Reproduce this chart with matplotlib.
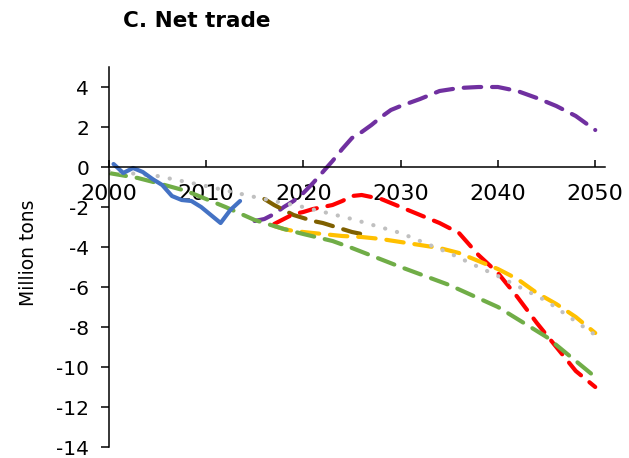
import matplotlib
matplotlib.use("Agg")
import matplotlib.pyplot as plt
import numpy as np

# historical net trade (mid-year points)
hist_years = np.arange(2000, 2014)
hist_vals = [0.15, -0.3, -0.05, -0.25, -0.6, -0.9, -1.45, -1.65, -1.7, -2.0, -2.4, -2.8, -2.15, -1.7]

# baseline trend (green)
base_years = [2000, 2003, 2005, 2008, 2010, 2012, 2015, 2018, 2020, 2023, 2025, 2030, 2035, 2040, 2045, 2050]
base_vals = [-0.3, -0.55, -0.8, -1.2, -1.6, -2.0, -2.65, -3.1, -3.35, -3.7, -4.05, -5.0, -5.9, -7.0, -8.5, -10.5]

# alternative trend (gray dotted)
alt_years = [2000, 2005, 2010, 2015, 2020, 2025, 2030, 2035, 2038, 2040, 2045, 2050]
alt_vals = [-0.2, -0.45, -0.95, -1.5, -2.0, -2.6, -3.3, -4.3, -5.0, -5.45, -6.7, -8.4]

# scenarios
purple_years = [2015, 2016, 2017, 2018, 2019, 2020, 2021, 2022, 2023, 2024, 2025, 2026, 2027, 2028,
                2029, 2030, 2032, 2034, 2036, 2038, 2040, 2042, 2044, 2046, 2048, 2050]
purple_vals = [-2.7, -2.6, -2.35, -2.0, -1.7, -1.3, -0.8, -0.25, 0.3, 0.9, 1.45, 1.75, 2.1, 2.5,
               2.85, 3.05, 3.4, 3.8, 3.95, 4.0, 4.0, 3.8, 3.45, 3.05, 2.55, 1.85]

brown_years = [2016, 2017, 2018, 2019, 2020, 2021, 2022, 2023, 2024, 2025, 2026]
brown_vals = [-1.6, -1.9, -2.15, -2.4, -2.55, -2.7, -2.8, -2.95, -3.1, -3.25, -3.35]

red_years = [2017, 2018, 2019, 2020, 2021, 2022, 2023, 2024, 2025, 2026, 2027, 2028, 2029, 2030,
             2032, 2034, 2036, 2038, 2040, 2042, 2044, 2046, 2048, 2050]
red_vals = [-2.85, -2.6, -2.35, -2.25, -2.1, -2.0, -1.9, -1.7, -1.45, -1.4, -1.5, -1.6, -1.8, -2.0,
            -2.4, -2.8, -3.3, -4.4, -5.3, -6.5, -7.8, -9.0, -10.2, -11.0]

yellow_years = [2017, 2018, 2019, 2020, 2022, 2024, 2026, 2028, 2030, 2032, 2034, 2036, 2038, 2040,
                2042, 2044, 2046, 2048, 2050]
yellow_vals = [-2.95, -3.1, -3.2, -3.25, -3.35, -3.45, -3.5, -3.6, -3.75, -3.9, -4.05, -4.3, -4.7, -5.1,
               -5.6, -6.3, -6.85, -7.5, -8.3]

xticks = [2000, 2010, 2020, 2030, 2040, 2050]
yticks = [-14, -12, -10, -8, -6, -4, -2, 0, 2, 4]

fig = plt.figure(figsize=(6.29, 4.58), dpi=100)
ax = fig.add_axes([0.1728, 0.024, 0.789, 0.8297])

lw = 3.0
dash = dict(linestyle=(0, (4.2, 2.6)), dash_capstyle='round', solid_capstyle='round', lw=lw)

ax.plot(purple_years, purple_vals, color='#7030A0', **dash)
ax.plot(brown_years, brown_vals, color='#7F6000', **dash)
ax.plot(red_years, red_vals, color='#FF0000', **dash)
ax.plot(yellow_years, yellow_vals, color='#FFC000', **dash)
ax.plot(base_years, base_vals, color='#70AD47', **dash)
ax.plot(alt_years, alt_vals, color='#C0C0C0', lw=lw, linestyle=(0, (0.05, 2.9)),
        dash_capstyle='round')
ax.plot(hist_years + 0.5, hist_vals, color='#4472C4', lw=lw, solid_capstyle='round',
        solid_joinstyle='round')

ax.set_xlim(2000, 2051)
ax.set_ylim(-14, 5)
ax.set_xticks(xticks)
ax.set_yticks(yticks)
ax.set_yticklabels([str(v) for v in yticks])

ax.spines['top'].set_visible(False)
ax.spines['right'].set_visible(False)
ax.spines['bottom'].set_position(('data', 0))
ax.spines['left'].set_linewidth(1.1)
ax.spines['bottom'].set_linewidth(1.1)
ax.spines['left'].set_bounds(-14, 5)

ax.tick_params(axis='x', direction='in', length=5, width=1.1, pad=12, labelsize=16)
ax.tick_params(axis='y', direction='out', length=6, width=1.1, pad=8, labelsize=14.5)

ax.set_ylabel('Million tons', fontsize=13.5, labelpad=2)
ax.yaxis.set_label_coords(-0.142, 0.51)

fig.text(0.1956, 0.954, 'C. Net trade', fontsize=15.5, fontweight='bold', va='center', ha='left')

fig.savefig('out.png', dpi=100)
